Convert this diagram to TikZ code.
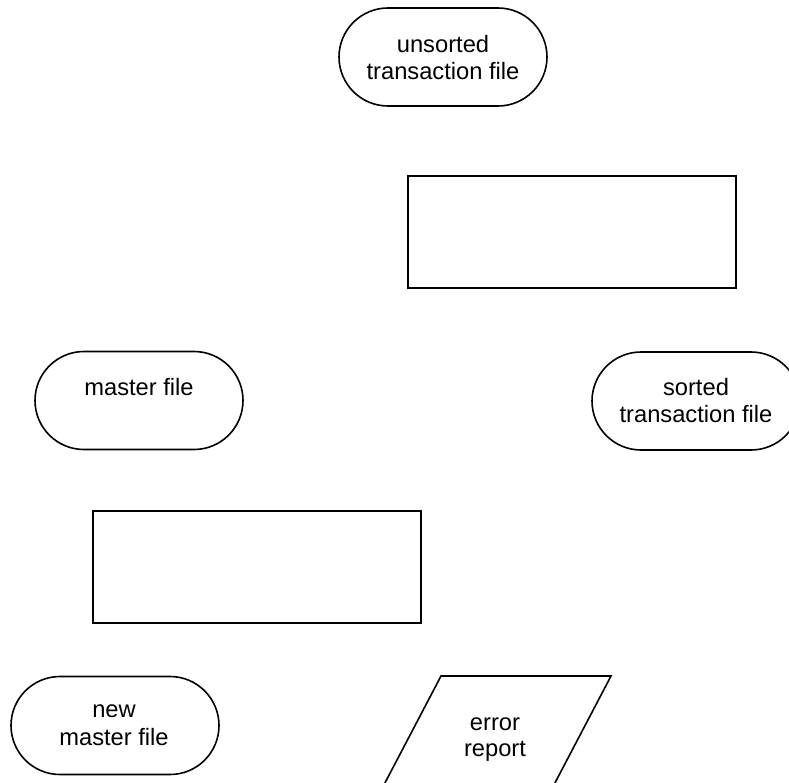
\documentclass[tikz,border=0pt]{standalone}
\usepackage{fontspec}
\setmainfont{Liberation Sans}
\begin{document}
\begin{tikzpicture}[x=1pt,y=-1pt]
\tikzset{
  shp/.style={draw=black, line width=1.6pt, fill=white},
  stadium/.style={shp, rectangle, rounded corners=49pt, minimum width=208pt, minimum height=98pt, inner sep=0pt},
  procbox/.style={shp, rectangle, minimum width=328pt, minimum height=112pt, inner sep=0pt},
  lbl/.style={font=\fontsize{23.7}{28}\selectfont, inner sep=0pt, anchor=base}
}
\fill[white] (0,0) rectangle (789,783);
\useasboundingbox (0,0) rectangle (789,783);

\node[stadium] (unsorted) at (443,57) {};
\node[procbox] (sort) at (572,232) {};
\node[stadium] (master) at (139,400.5) {};
\node[stadium] (sorted) at (696,401) {};
\node[procbox] (update) at (257,567) {};
\node[stadium] (newmaster) at (115,725.5) {};
\coordinate (err) at (496,738);
\draw[shp] (441,676) -- (611,676) -- (546,800) -- (376,800) -- cycle;

\node[lbl] (t1a) at (443,53) {unsorted};
\node[lbl] (t1b) at (443,80) {transaction file};
\node[lbl] (t2) at (139,395) {master file};
\node[lbl] (t3a) at (696,395) {sorted};
\node[lbl] (t3b) at (696,422) {transaction file};
\node[lbl] (t4a) at (114,717) {new};
\node[lbl] (t4b) at (114,745) {master file};
\node[lbl] (t5a) at (495,730) {error};
\node[lbl] (t5b) at (495,756) {report};
\end{tikzpicture}
\end{document}
